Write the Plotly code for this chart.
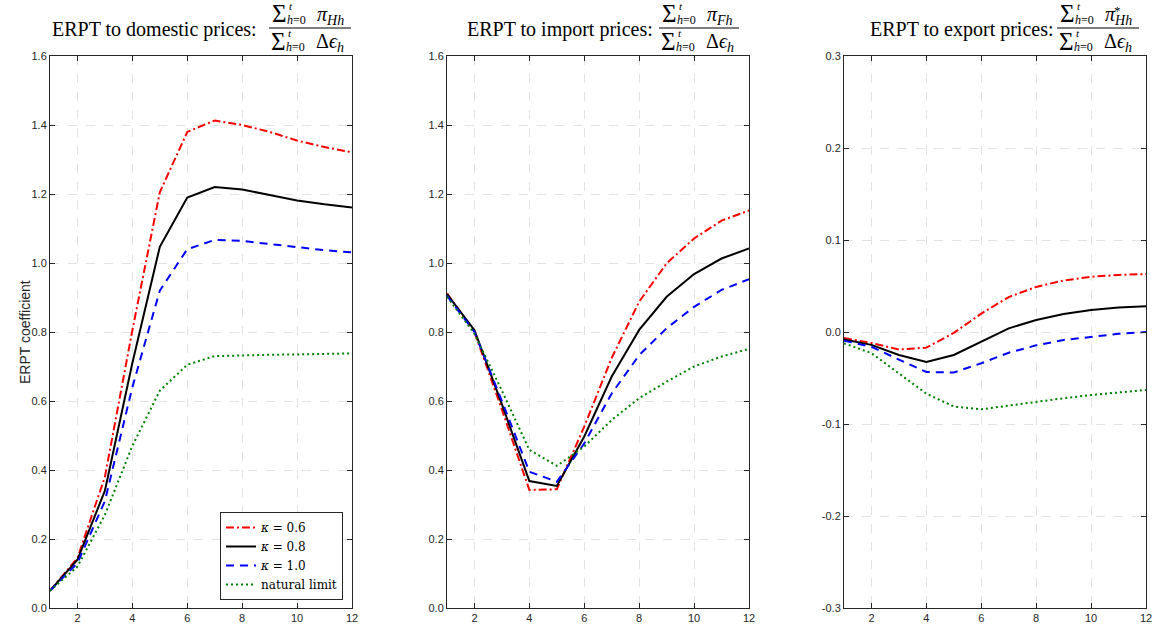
import plotly.graph_objects as go

# Horizon (quarters)
horizon = list(range(1, 13))

# Domestic prices: cumulative ERPT
dom_k06 = [0.05, 0.145, 0.38, 0.805, 1.205, 1.38, 1.413, 1.40, 1.38, 1.355, 1.336, 1.321]
dom_k08 = [0.05, 0.14, 0.34, 0.71, 1.047, 1.19, 1.22, 1.213, 1.197, 1.181, 1.17, 1.161]
dom_k10 = [0.05, 0.13, 0.31, 0.64, 0.92, 1.04, 1.067, 1.064, 1.055, 1.045, 1.037, 1.031]
dom_nat = [0.05, 0.12, 0.27, 0.47, 0.63, 0.705, 0.73, 0.733, 0.734, 0.735, 0.736, 0.738]

# Import prices: cumulative ERPT
imp_k06 = [0.912, 0.80, 0.575, 0.342, 0.344, 0.526, 0.725, 0.888, 0.999, 1.071, 1.123, 1.152]
imp_k08 = [0.91, 0.805, 0.59, 0.368, 0.354, 0.497, 0.671, 0.806, 0.902, 0.968, 1.013, 1.042]
imp_k10 = [0.905, 0.80, 0.60, 0.395, 0.366, 0.477, 0.622, 0.733, 0.811, 0.873, 0.922, 0.953]
imp_nat = [0.902, 0.795, 0.63, 0.458, 0.412, 0.468, 0.545, 0.608, 0.656, 0.70, 0.729, 0.751]

# Export prices: cumulative ERPT
exp_k06 = [-0.0065, -0.012, -0.019, -0.017, -0.001, 0.020, 0.038, 0.049, 0.056, 0.060, 0.062, 0.063]
exp_k08 = [-0.008, -0.014, -0.025, -0.0326, -0.025, -0.0105, 0.004, 0.013, 0.0196, 0.024, 0.0265, 0.028]
exp_k10 = [-0.0094, -0.016, -0.030, -0.0435, -0.044, -0.034, -0.0225, -0.0145, -0.0087, -0.005, -0.002, 0.0]
exp_nat = [-0.0123, -0.023, -0.045, -0.067, -0.081, -0.084, -0.080, -0.0757, -0.072, -0.0685, -0.0656, -0.063]

series_names = ["<i>κ</i> = 0.6", "<i>κ</i> = 0.8", "<i>κ</i> = 1.0", "natural limit"]
series_colors = ["#ff0000", "#000000", "#0000ff", "#008000"]
series_dash = ["8px,3px,2px,3px", "solid", "8px,6px", "2px,3px"]

x_ticks = [2, 4, 6, 8, 10, 12]
y_ticks_pos = [0.0, 0.2, 0.4, 0.6, 0.8, 1.0, 1.2, 1.4, 1.6]
y_labels_pos = ["0.0", "0.2", "0.4", "0.6", "0.8", "1.0", "1.2", "1.4", "1.6"]
y_ticks_exp = [-0.3, -0.2, -0.1, 0.0, 0.1, 0.2, 0.3]
y_labels_exp = ["-0.3", "-0.2", "-0.1", "0.0", "0.1", "0.2", "0.3"]

W, H = 1157, 634


def px(x):
    return x / W


def py(y):
    return 1 - y / H


panels = [
    dict(data=[dom_k06, dom_k08, dom_k10, dom_nat], x0=50, x1=352,
         yr=[0, 1.6], tv=y_ticks_pos, tt=y_labels_pos),
    dict(data=[imp_k06, imp_k08, imp_k10, imp_nat], x0=447, x1=749,
         yr=[0, 1.6], tv=y_ticks_pos, tt=y_labels_pos),
    dict(data=[exp_k06, exp_k08, exp_k10, exp_nat], x0=844, x1=1146,
         yr=[-0.3, 0.3], tv=y_ticks_exp, tt=y_labels_exp),
]

fig = go.Figure()
axis_col = "#262626"
sans = "Liberation Sans, Arial, sans-serif"
tick_font = dict(family=sans, size=11, color=axis_col)

for i, p in enumerate(panels):
    suffix = "" if i == 0 else str(i + 1)
    for j, ys in enumerate(p["data"]):
        fig.add_trace(go.Scatter(
            x=horizon, y=ys, mode="lines",
            name=series_names[j],
            line=dict(color=series_colors[j], width=2, dash=series_dash[j]),
            showlegend=(i == 0),
            xaxis="x" + suffix, yaxis="y" + suffix,
        ))
    common = dict(showline=True, linecolor=axis_col, linewidth=1, mirror="ticks",
                  ticks="inside", ticklen=5, tickcolor=axis_col, tickwidth=1,
                  showgrid=True, gridcolor="#e3e3e3", griddash="dash", gridwidth=1,
                  zeroline=False, tickfont=tick_font, automargin=False)
    fig.layout["xaxis" + suffix] = dict(
        domain=[px(p["x0"]), px(p["x1"])], range=[1, 12], tickvals=x_ticks,
        anchor="y" + suffix, **common)
    fig.layout["yaxis" + suffix] = dict(
        domain=[py(608), py(56)], range=p["yr"], tickvals=p["tv"], ticktext=p["tt"],
        anchor="x" + suffix, **common)

serif = "Liberation Serif, Times New Roman, serif"
annotations = []
shapes = []


def ann(x, y, text, size, xanchor="left", yanchor="middle"):
    annotations.append(dict(x=px(x), y=py(y), xref="paper", yref="paper", text=text,
                            showarrow=False, xanchor=xanchor, yanchor=yanchor,
                            borderpad=0,
                            font=dict(family=serif, size=size, color="#000000")))


def sum_block(x, y_mid):
    # summation sign with its limits stacked to the right
    ann(x, y_mid, "Σ", 25)
    ann(x + 17, y_mid - 8, "<i>t</i>", 11)
    ann(x + 15, y_mid + 6, "<i>h</i>=0", 12)


def title(x_text_end, label, frac_x0, frac_x1, num_tail, star=False):
    ann(x_text_end, 29, label, 20, xanchor="right")
    sum_block(frac_x0 + 2, 14)
    ann(frac_x0 + 47, 16, num_tail, 20)
    if star:
        ann(frac_x0 + 56, 10, "*", 13)
    shapes.append(dict(type="line", xref="paper", yref="paper",
                       x0=px(frac_x0), x1=px(frac_x1), y0=py(28), y1=py(28),
                       line=dict(color="#000000", width=1)))
    sum_block(frac_x0 + 1, 41)
    ann(frac_x0 + 46, 42, "Δ<i>ϵ</i><sub><i>h</i></sub>", 20)


title(258, "ERPT to domestic prices:", 269, 351, "<i>π</i><sub><i>Hh</i></sub>")
title(654, "ERPT to import prices:", 659, 739, "<i>π</i><sub><i>Fh</i></sub>")
title(1055, "ERPT to export prices:", 1057, 1139, "<i>π</i><sub><i>Hh</i></sub>", star=True)

annotations.append(dict(x=px(15), y=py(332), xref="paper", yref="paper",
                        text="ERPT coefficient", showarrow=False, textangle=-90,
                        font=dict(family=sans, size=14, color=axis_col)))

fig.update_layout(
    template="none",
    width=W, height=H,
    margin=dict(l=0, r=0, t=0, b=0, autoexpand=False),
    paper_bgcolor="white", plot_bgcolor="white",
    annotations=annotations, shapes=shapes,
    legend=dict(x=px(343), y=py(600), xanchor="right", yanchor="bottom",
                bgcolor="white", bordercolor=axis_col, borderwidth=1,
                font=dict(family="DejaVu Serif, serif", size=12, color="#000000"),
                tracegroupgap=0, itemwidth=30),
)

fig.write_html("out.html")
